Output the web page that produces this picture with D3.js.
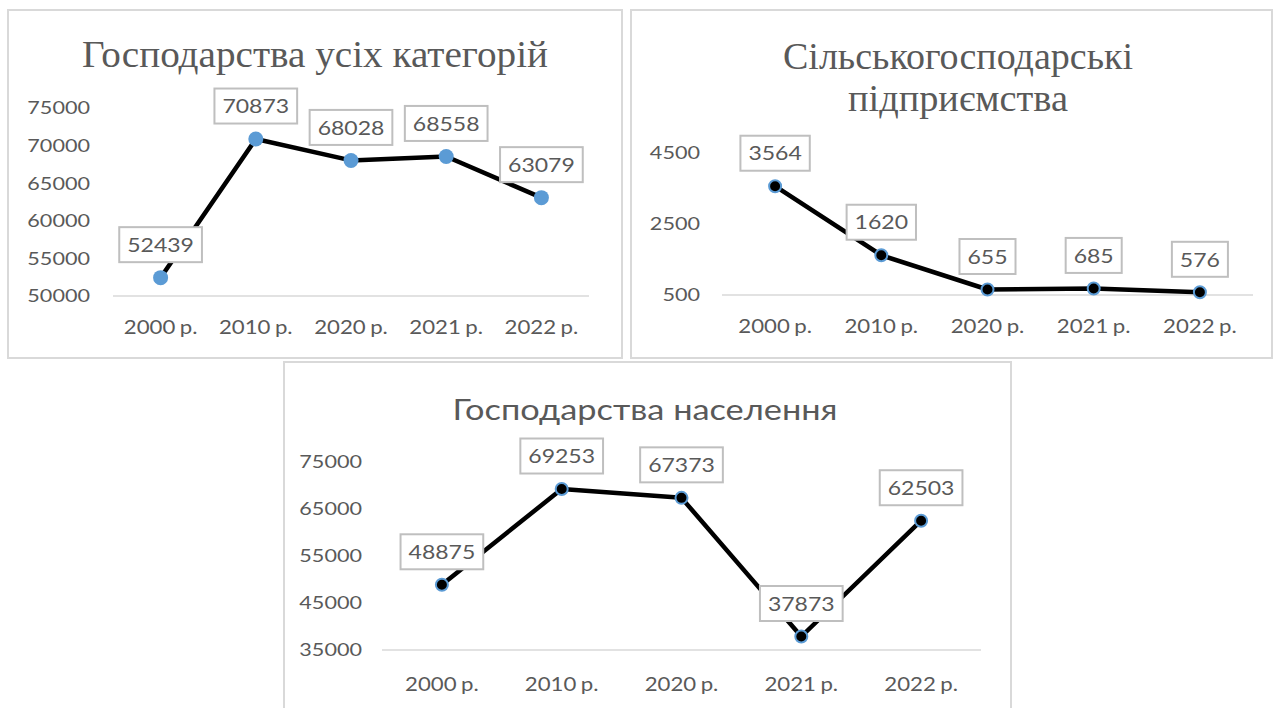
<!DOCTYPE html>
<html><head><meta charset="utf-8">
<script src="https://cdn.jsdelivr.net/npm/d3@7"></script>
<style>html,body{margin:0;padding:0;background:#fff;}svg{display:block;}</style>
</head><body>
<script>
const categories = ["2000 р.", "2010 р.", "2020 р.", "2021 р.", "2022 р."];
const allCategoriesValues = [52439, 70873, 68028, 68558, 63079];
const enterprisesValues = [3564, 1620, 655, 685, 576];
const householdsValues = [48875, 69253, 67373, 37873, 62503];
const allCategoriesTicks = [50000, 55000, 60000, 65000, 70000, 75000];
const enterprisesTicks = [500, 2500, 4500];
const householdsTicks = [35000, 45000, 55000, 65000, 75000];
const titleAll = "Господарства  усіх  категорій";
const titleEnterprises = ["Сільськогосподарські", "підприємства"];
const titleHouseholds = "Господарства  населення";

const W = 1274, H = 708;
const TEXT = "#595959", GRID = "#d9d9d9", BLUE = "#5b9bd5";
const STRETCH = 1.2;

const svg = d3.select("body").append("svg").attr("width", W).attr("height", H);

function stretch(sel, factor) {
  sel.each(function () {
    const w = this.getComputedTextLength();
    d3.select(this).attr("textLength", w * factor).attr("lengthAdjust", "spacingAndGlyphs");
  });
  return sel;
}

const panels = [
  {
    box: [8, 10, 614, 348], values: allCategoriesValues, ticks: allCategoriesTicks,
    x: [113, 589], y: [296, 108], yLabelX: 90, catY: 334,
    marker: { r: 7.5, fill: BLUE, stroke: "none", sw: 0 },
    titles: [{ text: titleAll, x: 315, y: 67, serif: true, len: 466 }]
  },
  {
    box: [631, 10, 641, 348], values: enterprisesValues, ticks: enterprisesTicks,
    x: [722, 1253], y: [295, 153], yLabelX: 700, catY: 333,
    marker: { r: 6, fill: "#000", stroke: BLUE, sw: 2 },
    titles: [
      { text: titleEnterprises[0], x: 958, y: 69, serif: true, len: 350 },
      { text: titleEnterprises[1], x: 958, y: 111, serif: true, len: 220 }
    ]
  },
  {
    box: [284, 362, 727, 360], values: householdsValues, ticks: householdsTicks,
    x: [382, 981], y: [650, 462], yLabelX: 362, catY: 691,
    marker: { r: 6, fill: "#000", stroke: BLUE, sw: 2 },
    titles: [{ text: titleHouseholds, x: 645, y: 420, serif: false, len: 385 }]
  }
];

panels.forEach(p => {
  const g = svg.append("g");
  g.append("rect").attr("x", p.box[0]).attr("y", p.box[1]).attr("width", p.box[2]).attr("height", p.box[3])
    .attr("fill", "#fff").attr("stroke", GRID).attr("stroke-width", 2);

  p.titles.forEach(t => {
    g.append("text").attr("x", t.x).attr("y", t.y).attr("text-anchor", "middle")
      .attr("fill", TEXT)
      .attr("font-family", t.serif ? "'Liberation Serif', 'Times New Roman', serif" : "Lato, 'Open Sans', sans-serif")
      .attr("font-size", t.serif ? 38 : 29)
      .attr("textLength", t.len).attr("lengthAdjust", "spacingAndGlyphs")
      .text(t.text);
  });

  const xs = d3.scalePoint().domain(categories).range(p.x).padding(0.5);
  const ys = d3.scaleLinear().domain([p.ticks[0], p.ticks[p.ticks.length - 1]]).range(p.y);

  g.append("line").attr("x1", p.x[0]).attr("x2", p.x[1]).attr("y1", ys(p.ticks[0])).attr("y2", ys(p.ticks[0]))
    .attr("stroke", GRID).attr("stroke-width", 1.3);

  const yl = g.selectAll(".yl").data(p.ticks).enter().append("text")
    .attr("x", p.yLabelX).attr("y", d => ys(d)).attr("dy", "0.36em")
    .attr("text-anchor", "end").attr("fill", TEXT)
    .attr("font-family", "Lato, sans-serif").attr("font-size", 18)
    .text(d => d);
  stretch(yl, STRETCH);

  const xl = g.selectAll(".xl").data(categories).enter().append("text")
    .attr("x", d => xs(d)).attr("y", p.catY)
    .attr("text-anchor", "middle").attr("fill", TEXT)
    .attr("font-family", "Lato, sans-serif").attr("font-size", 18.5)
    .attr("word-spacing", -1)
    .text(d => d);
  stretch(xl, 1.2);

  const pts = categories.map((c, i) => ({ c, v: p.values[i] }));
  const line = d3.line().x(d => xs(d.c)).y(d => ys(d.v));
  g.append("path").datum(pts).attr("d", line).attr("fill", "none")
    .attr("stroke", "#000").attr("stroke-width", 4.5).attr("stroke-linejoin", "round");

  g.selectAll(".mk").data(pts).enter().append("circle")
    .attr("cx", d => xs(d.c)).attr("cy", d => ys(d.v)).attr("r", p.marker.r)
    .attr("fill", p.marker.fill).attr("stroke", p.marker.stroke).attr("stroke-width", p.marker.sw);

  pts.forEach(d => {
    const cx = xs(d.c), cy = ys(d.v) - 33;
    const lg = g.append("g");
    const rect = lg.append("rect").attr("fill", "#fff").attr("stroke", "#bfbfbf").attr("stroke-width", 2);
    const t = lg.append("text").attr("x", cx).attr("y", cy).attr("dy", "0.36em")
      .attr("text-anchor", "middle").attr("fill", TEXT)
      .attr("font-family", "Lato, sans-serif").attr("font-size", 20)
      .text(d.v);
    stretch(t, 1.15);
    const tw = +t.attr("textLength");
    const bw = tw + 16, bh = 35;
    rect.attr("x", cx - bw / 2).attr("y", cy - bh / 2).attr("width", bw).attr("height", bh);
  });
});
</script>
</body></html>
